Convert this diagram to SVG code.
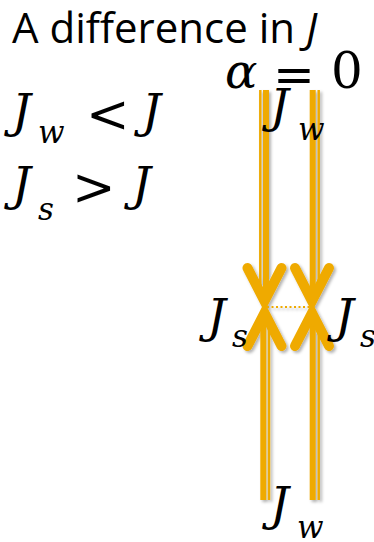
<svg xmlns="http://www.w3.org/2000/svg" width="374" height="542" viewBox="0 0 374 542">
  <style>
    .thick { stroke: #EFAA00; stroke-width: 6; fill: none; }
    .thin { stroke: #EFAA00; stroke-width: 2.5; fill: none; }
    .head { stroke: #EFAA00; stroke-width: 10; fill: none; stroke-linecap: round; stroke-linejoin: miter; }
    .dots { stroke: #EFAA00; stroke-width: 2; stroke-dasharray: 2 2.5; fill: none; }
  </style>
  <defs>
    <filter id="shadow" x="-30%" y="-10%" width="160%" height="120%">
      <feDropShadow dx="2" dy="2" stdDeviation="1.5" flood-color="#000" flood-opacity="0.3"/>
    </filter>
    <path id="chev" d="M-17,-33 L0,0 L17,-33"/>
  </defs>

  <g id="title">
    <text x="12" y="43" font-family="Open Sans" font-size="42">A difference in <tspan font-style="italic">J</tspan></text>
  </g>

  <g id="formula-w">
    <text x="12" y="127" font-family="DejaVu Serif" font-style="italic" font-size="47">J</text>
    <text x="38" y="143" font-family="DejaVu Serif" font-style="italic" font-size="31">w</text>
    <text x="86" y="132" font-family="DejaVu Serif" font-size="52">&lt;</text>
    <text x="142" y="127" font-family="DejaVu Serif" font-style="italic" font-size="47">J</text>
  </g>

  <g id="formula-s">
    <text x="12" y="200" font-family="DejaVu Serif" font-style="italic" font-size="47">J</text>
    <text x="38" y="220" font-family="DejaVu Serif" font-style="italic" font-size="31">s</text>
    <text x="72" y="205" font-family="DejaVu Serif" font-size="52">&gt;</text>
    <text x="132" y="200" font-family="DejaVu Serif" font-style="italic" font-size="47">J</text>
  </g>

  <g id="connectors" filter="url(#shadow)">
    <line class="thin" x1="260.3" y1="90" x2="260.3" y2="290"/>
    <line class="thick" x1="266" y1="90" x2="266" y2="290"/>
    <line class="thick" x1="312.7" y1="90" x2="312.7" y2="290"/>
    <line class="thin" x1="318.7" y1="90" x2="318.7" y2="290"/>
    <line class="thick" x1="263.3" y1="320" x2="263.3" y2="500"/>
    <line class="thin" x1="269" y1="320" x2="269" y2="500"/>
    <line class="thick" x1="312.7" y1="320" x2="312.7" y2="500"/>
    <line class="thin" x1="318.7" y1="320" x2="318.7" y2="500"/>
    <use href="#chev" class="head" transform="translate(264.5,301)"/>
    <use href="#chev" class="head" transform="translate(312,301)"/>
    <use href="#chev" class="head" transform="translate(264.5,313) rotate(180)"/>
    <use href="#chev" class="head" transform="translate(312,313) rotate(180)"/>
    <line class="dots" x1="267" y1="307" x2="310" y2="307"/>
  </g>

  <g id="alpha-label">
    <text x="225" y="88" font-family="DejaVu Serif" font-style="italic" font-size="48">α</text>
    <text x="273" y="92" font-family="DejaVu Serif" font-size="50">=</text>
    <text x="331" y="88" font-family="DejaVu Serif" font-size="50">0</text>
  </g>

  <g id="label-jw-top">
    <text x="270" y="122" font-family="DejaVu Serif" font-style="italic" font-size="47">J</text>
    <text x="298" y="140" font-family="DejaVu Serif" font-style="italic" font-size="31">w</text>
  </g>

  <g id="label-js-left">
    <text x="207" y="332" font-family="DejaVu Serif" font-style="italic" font-size="47">J</text>
    <text x="232" y="347" font-family="DejaVu Serif" font-style="italic" font-size="31">s</text>
  </g>

  <g id="label-js-right">
    <text x="335" y="332" font-family="DejaVu Serif" font-style="italic" font-size="47">J</text>
    <text x="360" y="347" font-family="DejaVu Serif" font-style="italic" font-size="31">s</text>
  </g>

  <g id="label-jw-bottom">
    <text x="270" y="520" font-family="DejaVu Serif" font-style="italic" font-size="47">J</text>
    <text x="297" y="538" font-family="DejaVu Serif" font-style="italic" font-size="31">w</text>
  </g>
</svg>
